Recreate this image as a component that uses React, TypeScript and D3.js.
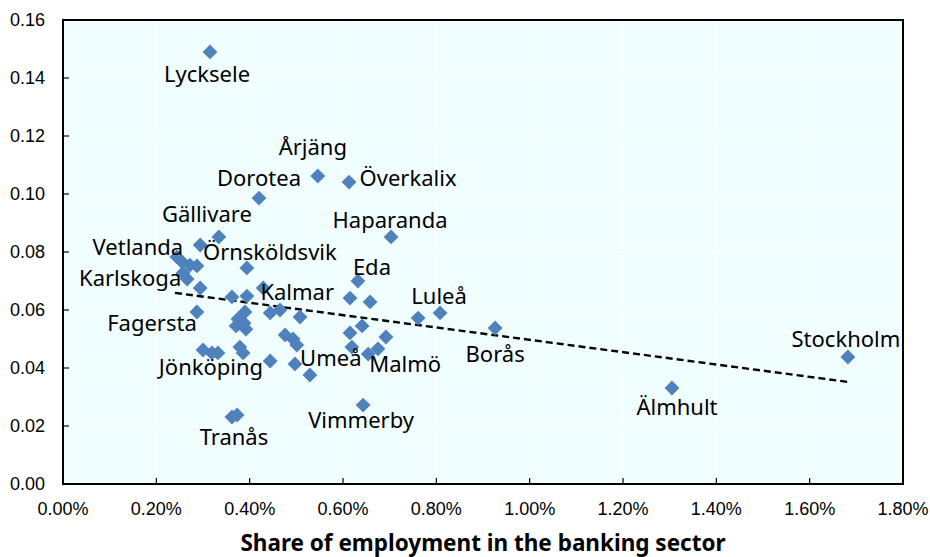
import React from 'react';
import * as d3 from 'd3';

const W = 930;
const H = 557;
const margin = { left: 63, top: 20, right: 27, bottom: 73 };

// Share of employment in the banking sector (in %)
const shareBanking = [
  0.315, 0.546, 0.613, 0.420, 0.703, 0.334, 0.294, 0.244, 0.255, 0.272,
  0.287, 0.257, 0.266, 0.294, 0.394, 0.362, 0.394, 0.429, 0.287, 0.390,
  0.375, 0.388, 0.371, 0.392, 0.444, 0.465, 0.508, 0.476, 0.493, 0.501,
  0.300, 0.319, 0.332, 0.379, 0.386, 0.444, 0.497, 0.529, 0.632, 0.615,
  0.658, 0.641, 0.615, 0.692, 0.619, 0.654, 0.675, 0.761, 0.808, 0.926,
  0.643, 0.362, 0.373, 1.305, 1.682,
];

const yValue = [
  0.1490, 0.1062, 0.1041, 0.0986, 0.0852, 0.0852, 0.0824, 0.0783, 0.0766, 0.0755,
  0.0752, 0.0728, 0.0707, 0.0676, 0.0745, 0.0645, 0.0648, 0.0676, 0.0593, 0.0593,
  0.0569, 0.0555, 0.0545, 0.0534, 0.0590, 0.0600, 0.0576, 0.0514, 0.0500, 0.0479,
  0.0462, 0.0452, 0.0452, 0.0472, 0.0452, 0.0424, 0.0414, 0.0376, 0.0700, 0.0641,
  0.0628, 0.0545, 0.0521, 0.0507, 0.0472, 0.0448, 0.0466, 0.0572, 0.0590, 0.0538,
  0.0272, 0.0231, 0.0238, 0.0331, 0.0438,
];

const cityNames = [
  'Lycksele', 'Årjäng', 'Överkalix', 'Dorotea', 'Haparanda', 'Gällivare', '', 'Vetlanda', '', '',
  '', '', 'Karlskoga', '', 'Örnsköldsvik', '', '', 'Kalmar', 'Fagersta', '',
  '', '', '', '', '', '', '', '', '', 'Umeå',
  'Jönköping', '', '', '', '', '', '', '', 'Eda', '',
  '', '', '', '', '', 'Malmö', '', '', 'Luleå', 'Borås',
  'Vimmerby', 'Tranås', '', 'Älmhult', 'Stockholm',
];

// label placement relative to its marker (px)
const labelOffsets: Record<string, [number, number]> = {
  'Lycksele': [-3, 30],
  'Årjäng': [-5, -21],
  'Överkalix': [59, 4],
  'Dorotea': [0, -12],
  'Haparanda': [-1, -9],
  'Gällivare': [-12, -15],
  'Vetlanda': [-39, -2],
  'Karlskoga': [-57, 7],
  'Örnsköldsvik': [23, -8],
  'Kalmar': [34, 12],
  'Fagersta': [-45, 19],
  'Umeå': [34, 21],
  'Jönköping': [8, 25],
  'Eda': [14, -6],
  'Malmö': [37, 18],
  'Luleå': [-1, -9],
  'Borås': [0, 34],
  'Vimmerby': [-2, 23],
  'Tranås': [2, 28],
  'Älmhult': [5, 27],
  'Stockholm': [-2, -10],
};

// dashed linear trend, read at both ends
const trendX = [0.24, 1.682];
const trendY = [0.0659, 0.0352];

const xTicks = [0, 0.2, 0.4, 0.6, 0.8, 1.0, 1.2, 1.4, 1.6, 1.8];
const yTicks = [0, 0.02, 0.04, 0.06, 0.08, 0.10, 0.12, 0.14, 0.16];

const tickFont = '"Liberation Sans Narrow", "Arial Narrow", "Liberation Sans", Arial, sans-serif';
const labelFont = '"Noto Sans", "Open Sans", sans-serif';

export default function App() {
  const x = d3.scaleLinear().domain([0, 1.8]).range([margin.left, W - margin.right]);
  const y = d3.scaleLinear().domain([0, 0.16]).range([H - margin.bottom, margin.top]);
  const diamond = d3.symbol(d3.symbolSquare, 110)()!;
  const trend = d3.line<number>().x((d) => x(trendX[d])).y((d) => y(trendY[d]))([0, 1])!;

  const x0 = margin.left;
  const x1 = W - margin.right;
  const y0 = H - margin.bottom;
  const y1 = margin.top;

  return (
    <div style={{ position: 'absolute', left: 0, top: 0 }}>
      <svg width={W} height={H} style={{ display: 'block', background: '#fff' }}>
        <rect x={x0} y={y1} width={x1 - x0} height={y0 - y1} fill="#f0feff" />
        {xTicks.map((t) => (
          <line key={'gx' + t} x1={x(t)} x2={x(t)} y1={y1} y2={y0} stroke="#fff" strokeWidth={1.2} />
        ))}
        {yTicks.map((t) => (
          <line key={'gy' + t} x1={x0} x2={x1} y1={y(t)} y2={y(t)} stroke="#fff" strokeWidth={1.2} />
        ))}
        {xTicks.map((t) => (
          <g key={'tx' + t}>
            <line x1={x(t)} x2={x(t)} y1={y0} y2={y0 - 6} stroke="#000" strokeWidth={1.2} />
            <text x={x(t)} y={515} textAnchor="middle" fontFamily={tickFont} fontSize={18} fill="#000">
              {d3.format('.2f')(t) + '%'}
            </text>
          </g>
        ))}
        {yTicks.map((t) => (
          <g key={'ty' + t}>
            <line x1={x0} x2={x0 + 6} y1={y(t)} y2={y(t)} stroke="#000" strokeWidth={1.2} />
            <text x={45} y={y(t)} dy="0.36em" textAnchor="end" fontFamily={tickFont} fontSize={18} fill="#000">
              {d3.format('.2f')(t)}
            </text>
          </g>
        ))}
        <rect x={x0} y={y1} width={x1 - x0} height={y0 - y1} fill="none" stroke="#000" strokeWidth={2} />

        <path d={trend} fill="none" stroke="#000" strokeWidth={2.4} strokeDasharray="7,4" />

        {shareBanking.map((v, i) => (
          <path
            key={'p' + i}
            d={diamond}
            transform={`translate(${x(v)},${y(yValue[i])}) rotate(45)`}
            fill="#4f81bd"
          />
        ))}

        {cityNames.map((name, i) => {
          if (!name) return null;
          const [dx, dy] = labelOffsets[name] || [0, -10];
          return (
            <text
              key={'l' + i}
              x={x(shareBanking[i]) + dx}
              y={y(yValue[i]) + dy}
              textAnchor="middle"
              fontFamily={labelFont}
              fontSize={22}
              fill="#000"
            >
              {name}
            </text>
          );
        })}

        <text
          x={(x0 + x1) / 2}
          y={551}
          textAnchor="middle"
          fontFamily={labelFont}
          fontWeight="bold"
          fontSize={22.5}
          fill="#000"
        >
          Share of employment in the banking sector
        </text>
      </svg>
    </div>
  );
}
